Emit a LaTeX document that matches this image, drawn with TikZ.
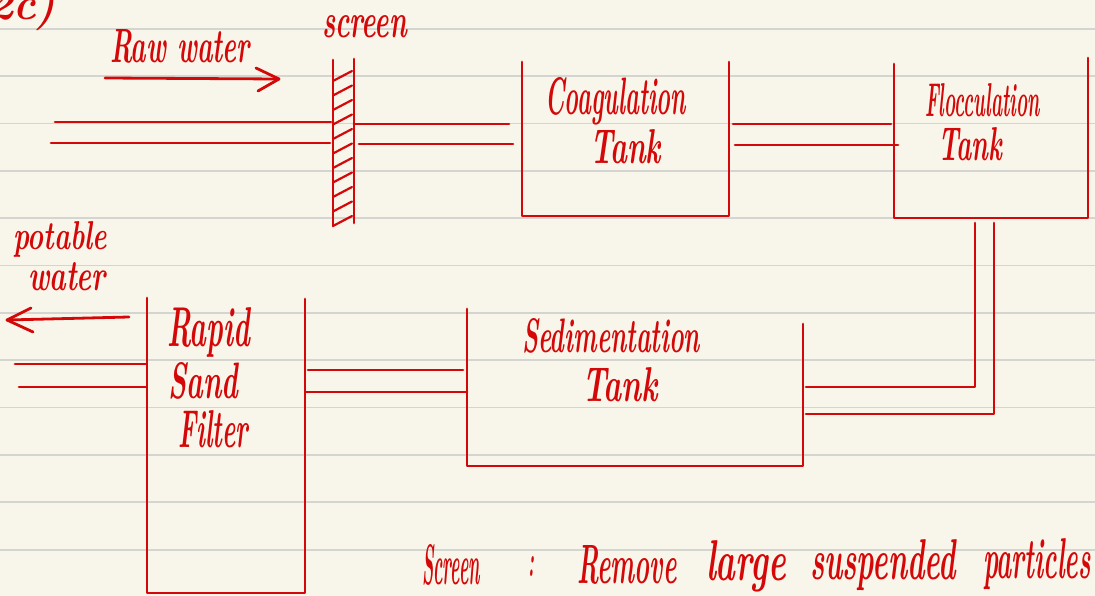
\documentclass[tikz,border=0pt]{standalone}
\usepackage{graphicx}
\definecolor{paper}{RGB}{248,246,234}
\definecolor{rule}{RGB}{212,212,208}
\definecolor{ink}{RGB}{212,8,8}
\tikzset{
  pipe/.style={draw=ink, line width=2.8pt, line cap=round, line join=round},
  hand/.style={inner sep=0pt, outer sep=0pt, text=ink, anchor=base west, font=\bfseries\itshape},
}
\newcommand{\hw}[3]{\resizebox{#1pt}{#2pt}{#3}}
\begin{document}
\begin{tikzpicture}[x=1pt,y=-1pt]
\useasboundingbox (0,0) rectangle (1095,596);
\clip (0,0) rectangle (1095,596);
\fill[paper] (0,0) rectangle (1095,596);
% ruled lines
\foreach \k in {0,...,11} {
  \draw[rule, line width=1.8pt] (0,{28.7+47.36*\k}) -- (1095,{28.7+47.36*\k});
}
% corner label
\node[hand] (q) at (-12,20) {\hw{68}{34}{2c)}};
% raw water
\node[hand] (raw) at (110,63) {\hw{140}{33}{Raw water}};
\coordinate (rawA) at (105,78);
\coordinate (rawB) at (279,79);
\draw[pipe] (rawA) -- (rawB);
\draw[pipe] (256,68) -- (rawB) -- (258,91);
% screen
\node[hand] (scrlbl) at (322,38) {\hw{85}{22}{screen}};
\draw[pipe] (333,60) -- (333,226);
\draw[pipe] (354,59) -- (354,223);
\foreach \i in {0,...,10} {
  \draw[pipe, line width=2.2pt] (333,{81+14.5*\i}) -- (352,{71+14.5*\i});
}
% inlet pipes
\draw[pipe] (55,122) -- (331,122);
\draw[pipe] (51,143) -- (330,143);
% screen -> coagulation
\draw[pipe] (354,124) -- (509,124);
\draw[pipe] (359,144) -- (513,144);
% coagulation tank
\draw[pipe] (522,62) -- (522,216) -- (729,216) -- (729,62);
\node[hand] (coag1) at (545,115) {\hw{141}{37}{Coagulation}};
\node[hand] (coag2) at (590,164) {\hw{71}{34}{Tank}};
% coag -> floc
\draw[pipe] (733,124) -- (891,124);
\draw[pipe] (735,145) -- (898,145);
% flocculation tank
\draw[pipe] (894,64) -- (894,218) -- (1088,218) -- (1088,58);
\node[hand] (floc1) at (925,117) {\hw{115}{33}{Flocculation}};
\node[hand] (floc2) at (938,161) {\hw{64}{33}{Tank}};
% floc -> sedimentation
\draw[pipe] (975,223) -- (975,387) -- (806,387);
\draw[pipe] (994,223) -- (994,414) -- (806,414);
% sedimentation tank
\draw[pipe] (467,309) -- (467,466) -- (803,466) -- (803,324);
\node[hand] (sed1) at (522,352) {\hw{178}{34}{Sedimentation}};
\node[hand] (sed2) at (582,401) {\hw{76}{34}{Tank}};
% sed -> filter
\draw[pipe] (308,370) -- (463,370);
\draw[pipe] (306,392) -- (467,392);
% rapid sand filter
\draw[pipe] (147,298) -- (147,593) -- (305,593) -- (305,299);
\node[hand] (rsf1) at (167,346) {\hw{83}{39}{Rapid}};
\node[hand] (rsf2) at (168,398) {\hw{70}{36}{Sand}};
\node[hand] (rsf3) at (178,447) {\hw{70}{37}{Filter}};
% outlet
\draw[pipe] (15,364) -- (146,364);
\draw[pipe] (19,387) -- (146,387);
\coordinate (potA) at (129,317);
\coordinate (potB) at (7,320);
\draw[pipe] (potA) -- (potB);
\draw[pipe] (31,308) -- (potB) -- (33,332);
\node[hand] (pot1) at (13,249) {\hw{94}{28}{potable}};
\node[hand] (pot2) at (28,290) {\hw{78}{28}{water}};
% note
\node[hand] (n1) at (422,584) {\hw{58}{40}{Screen}};
\node[hand] (n2) at (528,576) {\hw{6}{20}{:}};
\node[hand] (n3) at (577,583) {\hw{100}{38}{Remove}};
\node[hand] (n4) at (706,580) {\hw{80}{40}{large}};
\node[hand] (n5) at (810,579) {\hw{146}{40}{suspended}};
\node[hand] (n6) at (983,578) {\hw{108}{40}{particles}};
\end{tikzpicture}
\end{document}
